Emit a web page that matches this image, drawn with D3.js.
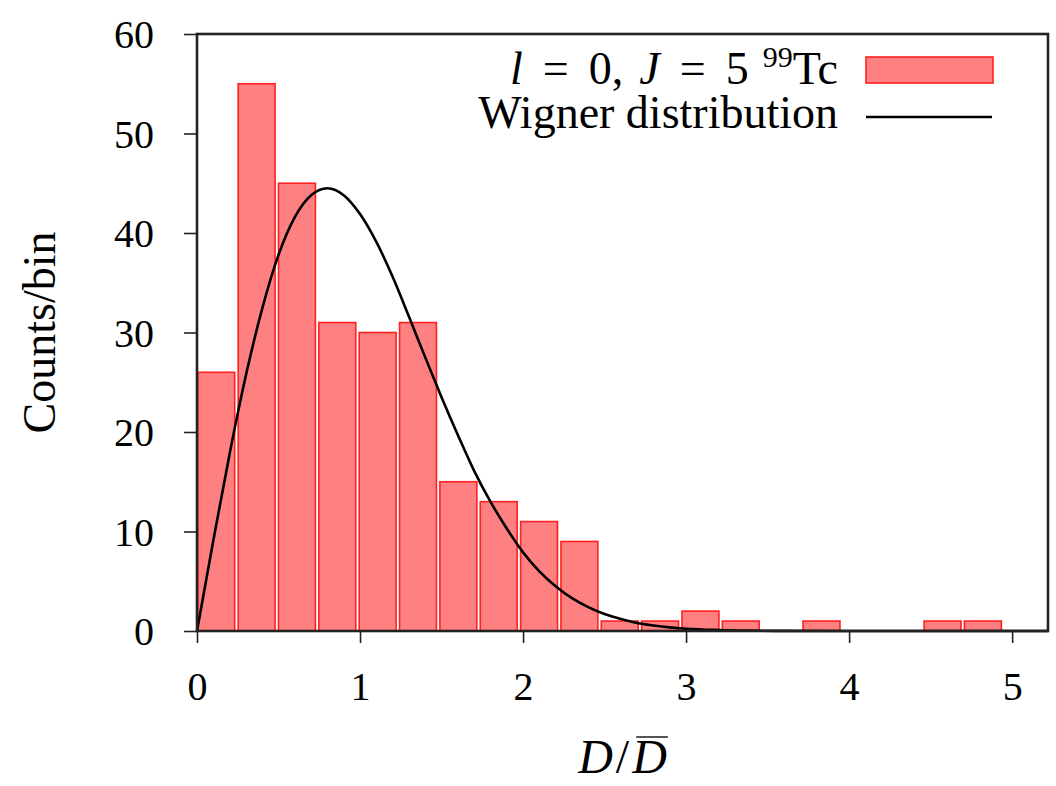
<!DOCTYPE html>
<html>
<head>
<meta charset="utf-8">
<script src="https://cdn.jsdelivr.net/npm/d3@7"></script>
<style>
  body { margin: 0; background: #fff; }
  text { font-family: "Liberation Serif", "DejaVu Serif", serif; fill: #000; }
</style>
</head>
<body>
<div id="chart"></div>
<script>
// histogram of normalised spacings, bins of ~0.2475
var binWidth = 0.2475
var counts = [26, 55, 45, 31, 30, 31, 15, 13, 11, 9, 1, 1, 2, 1, 0, 1, 0, 0, 1, 1]

// Wigner curve, every 0.1
var wignerX = [0, 0.1, 0.2, 0.3, 0.4, 0.5, 0.6, 0.7, 0.8, 0.9, 1.0, 1.1, 1.2, 1.3, 1.4, 1.5, 1.6, 1.7,
  1.8, 1.9, 2.0, 2.1, 2.2, 2.3, 2.4, 2.5, 2.6, 2.7, 2.8, 2.9, 3.0, 3.2, 3.4, 3.6, 4.0, 4.5, 5.0, 5.22]
var wignerY = [0, 9.1, 17.8, 25.7, 32.4, 37.8, 41.6, 43.8, 44.5, 43.8, 41.9, 39.1, 35.6, 31.6, 27.5,
  23.5, 19.7, 16.1, 13.0, 10.3, 7.9, 6.0, 4.5, 3.3, 2.4, 1.7, 1.2, 0.8, 0.55, 0.36, 0.23, 0.1, 0.04,
  0.01, 0, 0, 0, 0]

var xTicks = [0, 1, 2, 3, 4, 5]
var yTicks = [0, 10, 20, 30, 40, 50, 60]

var W = 1056, H = 786
var margin = { top: 34, right: 8, bottom: 155, left: 197 }
var w = W - margin.left - margin.right
var h = H - margin.top - margin.bottom

var svg = d3.select('#chart').append('svg')
  .attr('width', W)
  .attr('height', H)

var g = svg.append('g')
  .attr('transform', 'translate(' + margin.left + ',' + margin.top + ')')

var x = d3.scaleLinear().domain([0, 5.22]).range([0, w])
var y = d3.scaleLinear().domain([0, 60]).range([h, 0])

// bars
g.selectAll('.bar')
  .data(counts)
  .enter().append('rect')
  .attr('class', 'bar')
  .attr('x', function(d, i) { return x(i * binWidth) + 0.8 })
  .attr('width', function() { return x(binWidth * 0.915) - x(0) })
  .attr('y', function(d) { return y(d) })
  .attr('height', function(d) { return y(0) - y(d) })
  .attr('fill', '#ff8080')
  .attr('stroke', '#ff2020')
  .attr('stroke-width', 1.6)
  .attr('display', function(d) { return d > 0 ? null : 'none' })

// wigner line
var line = d3.line()
  .x(function(d, i) { return x(wignerX[i]) })
  .y(function(d) { return y(d) })
  .curve(d3.curveMonotoneX)

g.append('path')
  .datum(wignerY)
  .attr('d', line)
  .attr('fill', 'none')
  .attr('stroke', '#000')
  .attr('stroke-width', 2.6)

// frame
g.append('rect')
  .attr('x', 0).attr('y', 0)
  .attr('width', w).attr('height', h)
  .attr('fill', 'none')
  .attr('stroke', '#222')
  .attr('stroke-width', 2.6)

// axes
var xAxis = g.append('g')
  .attr('transform', 'translate(0,' + h + ')')
  .call(d3.axisBottom(x).tickValues(xTicks).tickSize(12).tickPadding(28).tickFormat(d3.format('d')))
var yAxis = g.append('g')
  .call(d3.axisLeft(y).tickValues(yTicks).tickSize(13).tickPadding(30).tickFormat(d3.format('d')))

xAxis.select('.domain').remove()
yAxis.select('.domain').remove()
svg.selectAll('.tick line').attr('stroke', '#222').attr('stroke-width', 1.6)
svg.selectAll('.tick text')
  .style('font-family', '"Liberation Serif", serif')
  .style('font-size', '40px')
yAxis.selectAll('.tick text').attr('dy', '0.34em')
xAxis.selectAll('.tick text').attr('dy', '0.72em')

// axis titles
svg.append('text')
  .attr('transform', 'translate(55,' + (margin.top + h / 2) + ') rotate(-90)')
  .attr('text-anchor', 'middle')
  .style('font-size', '46px')
  .text('Counts/bin')

// lays pieces of text out side by side, right edge at xr
function row(parent, pieces, xr, yb) {
  var items = pieces.map(function(p) {
    var t = parent.append('text')
      .attr('y', yb + (p.dy || 0))
      .style('font-size', p.size + 'px')
      .style('font-style', p.italic ? 'italic' : 'normal')
      .text(p.t)
    return { node: t, len: t.node().getComputedTextLength(), gap: p.gap || 0 }
  })
  var total = d3.sum(items, function(d) { return d.len + d.gap })
  var cx = xr - total
  items.forEach(function(d) {
    cx += d.gap
    d.node.attr('x', cx)
    d.x = cx
    cx += d.len
  })
  return items
}

// x title: D / D-bar
var xtitle = svg.append('g')
var parts = row(xtitle, [
  { t: 'D', size: 48, italic: true },
  { t: '/', size: 48, gap: 3 },
  { t: 'D', size: 48, italic: true, gap: 3 }
], 0, 773)
var tw = parts[2].x + parts[2].len - parts[0].x
xtitle.attr('transform', 'translate(' + (margin.left + w / 2 + tw / 2) + ',0)')
xtitle.append('line')
  .attr('x1', parts[2].x + 4).attr('x2', parts[2].x + parts[2].len + 1)
  .attr('y1', 737).attr('y2', 737)
  .attr('stroke', '#555')
  .attr('stroke-width', 2)

// legend
var legend = svg.append('g')

row(legend, [
  { t: 'l', size: 46, italic: true },
  { t: '=', size: 46, gap: 20 },
  { t: '0,', size: 46, gap: 20 },
  { t: 'J', size: 46, italic: true, gap: 16 },
  { t: '=', size: 46, gap: 20 },
  { t: '5', size: 46, gap: 20 },
  { t: '99', size: 30, dy: -17, gap: 14 },
  { t: 'Tc', size: 46 }
], 838, 84)

legend.append('text')
  .attr('x', 838).attr('y', 128)
  .attr('text-anchor', 'end')
  .style('font-size', '46px')
  .text('Wigner distribution')

legend.append('rect')
  .attr('x', 866).attr('y', 57)
  .attr('width', 127).attr('height', 26)
  .attr('fill', '#ff8080')
  .attr('stroke', '#ff2020')
  .attr('stroke-width', 1.6)

legend.append('line')
  .attr('x1', 866).attr('x2', 992)
  .attr('y1', 117).attr('y2', 117)
  .attr('stroke', '#000')
  .attr('stroke-width', 2.6)
</script>
</body>
</html>
